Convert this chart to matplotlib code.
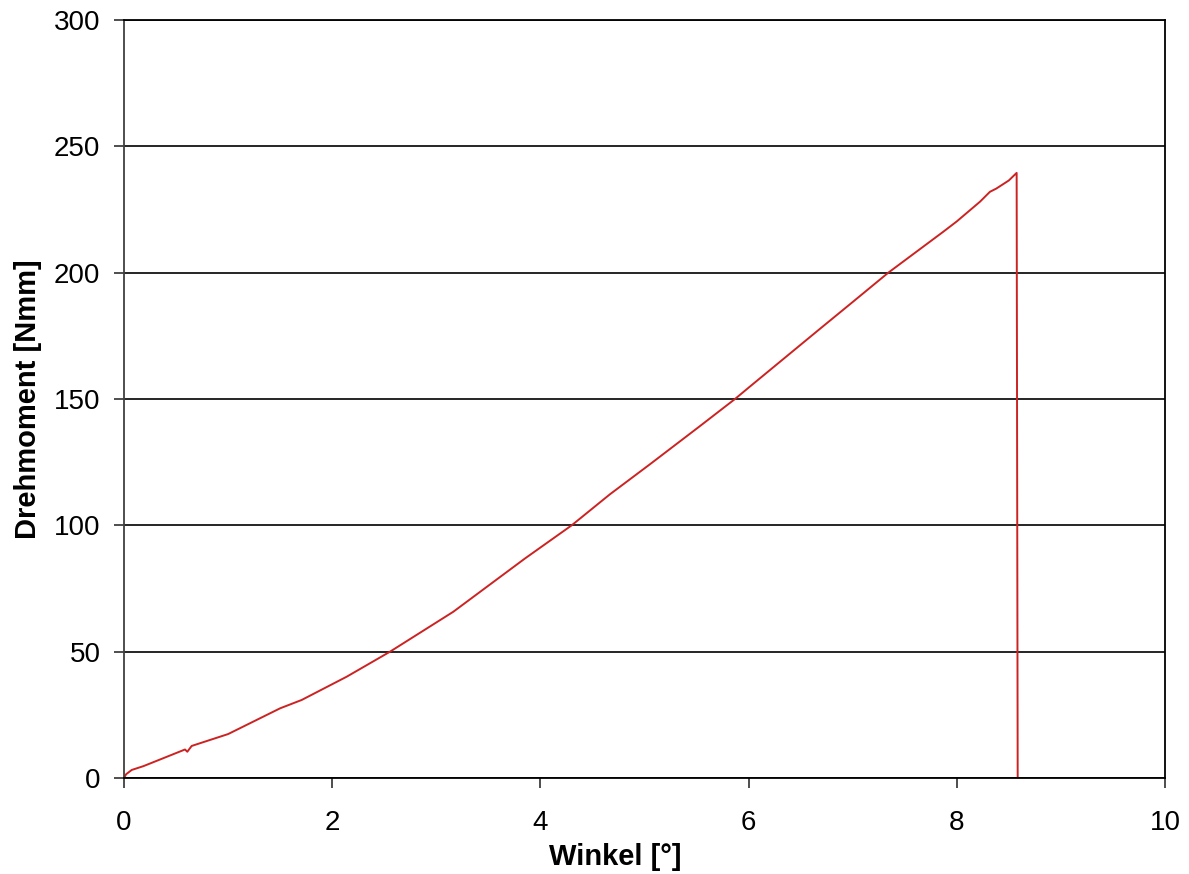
import matplotlib
matplotlib.use('Agg')
import matplotlib.pyplot as plt

plt.rcParams['font.family'] = ['Liberation Sans', 'DejaVu Sans']

winkel = [0, 0.02, 0.074, 0.186, 0.35, 0.586, 0.608, 0.65, 1.0, 1.5, 1.707,
          2.139, 2.555, 3.163, 3.852, 4.30, 4.668, 5.053, 5.533, 5.869, 6.0,
          6.686, 7.0, 7.342, 7.87, 8.0, 8.223, 8.318, 8.38, 8.50, 8.575, 8.585]
drehmoment = [0, 1.5, 3.2, 4.7, 7.4, 11.3, 10.4, 12.7, 17.4, 27.6, 30.9,
              40.1, 50, 65.8, 86.9, 100, 112.3, 124.2, 139.3, 150, 154.5,
              177.8, 188.4, 200, 216.2, 220.3, 228.1, 232.0, 233.3, 236.5, 239.5, 0]

x_ticks = [0, 2, 4, 6, 8, 10]
y_ticks = [0, 50, 100, 150, 200, 250, 300]

fig = plt.figure(figsize=(11.89, 8.74), dpi=100)
ax = fig.add_axes([0.1043, 0.1098, 0.8755, 0.8673])

ax.plot(winkel, drehmoment, color='#CC2222', linewidth=1.4)

ax.set_xlim(0, 10)
ax.set_ylim(0, 300)
ax.set_xticks(x_ticks)
ax.set_yticks(y_ticks)
ax.yaxis.grid(True, color='black', linewidth=1.2)
ax.set_axisbelow(True)

ax.tick_params(axis='both', labelsize=20, length=7, width=1.3, color='#404040')
ax.tick_params(axis='x', pad=16)
ax.tick_params(axis='y', pad=10)

for side in ['left', 'bottom', 'right', 'top']:
    ax.spines[side].set_linewidth(1.3)
ax.spines['left'].set_color('#404040')
ax.spines['bottom'].set_color('black')

ax.set_xlabel('Winkel [°]', fontsize=21, fontweight='bold')
ax.set_ylabel('Drehmoment [Nmm]', fontsize=21, fontweight='bold')
ax.xaxis.set_label_coords(0.472, -0.086)
ax.yaxis.set_label_coords(-0.079, 0.5)

fig.savefig('out.png', dpi=100)
